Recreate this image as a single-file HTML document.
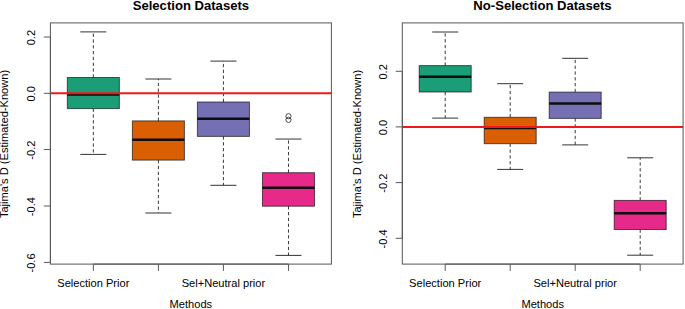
<!DOCTYPE html>
<html><head><meta charset="utf-8"><title>Tajima's D boxplots</title>
<style>
html,body{margin:0;padding:0;background:#fff;}
body{width:685px;height:309px;overflow:hidden;}
svg{display:block;font-family:'Liberation Sans', Arial, Helvetica, sans-serif;fill:#000;}
</style></head><body>
<svg xmlns="http://www.w3.org/2000/svg" width="685" height="309" viewBox="0 0 685 309">
<rect width="685" height="309" fill="#fff"/>
<line x1="93.33" y1="77.50" x2="93.33" y2="31.90" stroke="#3a3a3a" stroke-width="1" stroke-dasharray="3.3 2.5"/>
<line x1="93.33" y1="108.60" x2="93.33" y2="154.40" stroke="#3a3a3a" stroke-width="1" stroke-dasharray="3.3 2.5"/>
<line x1="80.32" y1="31.90" x2="106.34" y2="31.90" stroke="#333" stroke-width="1"/>
<line x1="80.32" y1="154.40" x2="106.34" y2="154.40" stroke="#333" stroke-width="1"/>
<rect x="67.31" y="77.50" width="52.04" height="31.10" fill="#1B9E77" stroke="#000" stroke-opacity="0.62" stroke-width="1"/>
<line x1="67.31" y1="94.60" x2="119.35" y2="94.60" stroke="#0d0d0d" stroke-width="2.5"/>
<line x1="158.38" y1="120.90" x2="158.38" y2="79.00" stroke="#3a3a3a" stroke-width="1" stroke-dasharray="3.3 2.5"/>
<line x1="158.38" y1="160.10" x2="158.38" y2="213.00" stroke="#3a3a3a" stroke-width="1" stroke-dasharray="3.3 2.5"/>
<line x1="145.37" y1="79.00" x2="171.39" y2="79.00" stroke="#333" stroke-width="1"/>
<line x1="145.37" y1="213.00" x2="171.39" y2="213.00" stroke="#333" stroke-width="1"/>
<rect x="132.36" y="120.90" width="52.04" height="39.20" fill="#D95F02" stroke="#000" stroke-opacity="0.62" stroke-width="1"/>
<line x1="132.36" y1="139.80" x2="184.40" y2="139.80" stroke="#0d0d0d" stroke-width="2.5"/>
<line x1="223.42" y1="102.00" x2="223.42" y2="61.10" stroke="#3a3a3a" stroke-width="1" stroke-dasharray="3.3 2.5"/>
<line x1="223.42" y1="136.40" x2="223.42" y2="185.30" stroke="#3a3a3a" stroke-width="1" stroke-dasharray="3.3 2.5"/>
<line x1="210.41" y1="61.10" x2="236.43" y2="61.10" stroke="#333" stroke-width="1"/>
<line x1="210.41" y1="185.30" x2="236.43" y2="185.30" stroke="#333" stroke-width="1"/>
<rect x="197.40" y="102.00" width="52.04" height="34.40" fill="#7570B3" stroke="#000" stroke-opacity="0.62" stroke-width="1"/>
<line x1="197.40" y1="118.80" x2="249.44" y2="118.80" stroke="#0d0d0d" stroke-width="2.5"/>
<line x1="288.47" y1="172.70" x2="288.47" y2="139.05" stroke="#3a3a3a" stroke-width="1" stroke-dasharray="3.3 2.5"/>
<line x1="288.47" y1="206.20" x2="288.47" y2="255.40" stroke="#3a3a3a" stroke-width="1" stroke-dasharray="3.3 2.5"/>
<line x1="275.46" y1="139.05" x2="301.48" y2="139.05" stroke="#333" stroke-width="1"/>
<line x1="275.46" y1="255.40" x2="301.48" y2="255.40" stroke="#333" stroke-width="1"/>
<rect x="262.45" y="172.70" width="52.04" height="33.50" fill="#E7298A" stroke="#000" stroke-opacity="0.62" stroke-width="1"/>
<line x1="262.45" y1="187.80" x2="314.49" y2="187.80" stroke="#0d0d0d" stroke-width="2.5"/>
<circle cx="288.47" cy="116.20" r="2.6" fill="none" stroke="#3a3a3a" stroke-width="0.9"/>
<circle cx="288.47" cy="119.90" r="2.6" fill="none" stroke="#3a3a3a" stroke-width="0.9"/>
<line x1="50.40" y1="93.15" x2="331.40" y2="93.15" stroke="#F01818" stroke-width="2"/>
<rect x="50.40" y="22.90" width="281.00" height="241.20" fill="none" stroke="#555" stroke-width="1"/>
<line x1="50.40" y1="37.00" x2="50.40" y2="262.40" stroke="#555" stroke-width="1"/>
<line x1="43.80" y1="37.00" x2="50.40" y2="37.00" stroke="#5a5a5a" stroke-width="1"/>
<text transform="translate(35.20,37.60) rotate(-90)" text-anchor="middle" font-size="11.1">0.2</text>
<line x1="43.80" y1="93.30" x2="50.40" y2="93.30" stroke="#5a5a5a" stroke-width="1"/>
<text transform="translate(35.20,93.90) rotate(-90)" text-anchor="middle" font-size="11.1">0.0</text>
<line x1="43.80" y1="149.50" x2="50.40" y2="149.50" stroke="#5a5a5a" stroke-width="1"/>
<text transform="translate(35.20,150.10) rotate(-90)" text-anchor="middle" font-size="11.1">-0.2</text>
<line x1="43.80" y1="206.00" x2="50.40" y2="206.00" stroke="#5a5a5a" stroke-width="1"/>
<text transform="translate(35.20,206.60) rotate(-90)" text-anchor="middle" font-size="11.1">-0.4</text>
<line x1="43.80" y1="262.40" x2="50.40" y2="262.40" stroke="#5a5a5a" stroke-width="1"/>
<text transform="translate(35.20,263.00) rotate(-90)" text-anchor="middle" font-size="11.1">-0.6</text>
<line x1="93.33" y1="264.10" x2="288.47" y2="264.10" stroke="#555" stroke-width="1"/>
<line x1="93.33" y1="264.10" x2="93.33" y2="270.90" stroke="#5a5a5a" stroke-width="1"/>
<line x1="158.38" y1="264.10" x2="158.38" y2="270.90" stroke="#5a5a5a" stroke-width="1"/>
<line x1="223.42" y1="264.10" x2="223.42" y2="270.90" stroke="#5a5a5a" stroke-width="1"/>
<line x1="288.47" y1="264.10" x2="288.47" y2="270.90" stroke="#5a5a5a" stroke-width="1"/>
<text x="93.33" y="287.3" text-anchor="middle" font-size="11.1">Selection Prior</text>
<text x="223.42" y="287.3" text-anchor="middle" font-size="11.1">Sel+Neutral prior</text>
<text x="190.90" y="307.6" text-anchor="middle" font-size="11.1">Methods</text>
<text x="190.90" y="10.4" text-anchor="middle" font-size="13.1" font-weight="bold">Selection Datasets</text>
<text transform="translate(8.40,144.00) rotate(-90)" text-anchor="middle" font-size="11.1">Tajima&#39;s D (Estimated-Known)</text>
<line x1="445.20" y1="65.60" x2="445.20" y2="32.00" stroke="#3a3a3a" stroke-width="1" stroke-dasharray="3.3 2.5"/>
<line x1="445.20" y1="92.00" x2="445.20" y2="118.10" stroke="#3a3a3a" stroke-width="1" stroke-dasharray="3.3 2.5"/>
<line x1="432.20" y1="32.00" x2="458.20" y2="32.00" stroke="#333" stroke-width="1"/>
<line x1="432.20" y1="118.10" x2="458.20" y2="118.10" stroke="#333" stroke-width="1"/>
<rect x="419.20" y="65.60" width="52.00" height="26.40" fill="#1B9E77" stroke="#000" stroke-opacity="0.62" stroke-width="1"/>
<line x1="419.20" y1="76.80" x2="471.20" y2="76.80" stroke="#0d0d0d" stroke-width="2.5"/>
<line x1="510.20" y1="117.30" x2="510.20" y2="83.70" stroke="#3a3a3a" stroke-width="1" stroke-dasharray="3.3 2.5"/>
<line x1="510.20" y1="143.70" x2="510.20" y2="169.40" stroke="#3a3a3a" stroke-width="1" stroke-dasharray="3.3 2.5"/>
<line x1="497.20" y1="83.70" x2="523.20" y2="83.70" stroke="#333" stroke-width="1"/>
<line x1="497.20" y1="169.40" x2="523.20" y2="169.40" stroke="#333" stroke-width="1"/>
<rect x="484.20" y="117.30" width="52.00" height="26.40" fill="#D95F02" stroke="#000" stroke-opacity="0.62" stroke-width="1"/>
<line x1="484.20" y1="128.10" x2="536.20" y2="128.10" stroke="#0d0d0d" stroke-width="2.5"/>
<line x1="575.20" y1="92.10" x2="575.20" y2="58.30" stroke="#3a3a3a" stroke-width="1" stroke-dasharray="3.3 2.5"/>
<line x1="575.20" y1="118.40" x2="575.20" y2="144.90" stroke="#3a3a3a" stroke-width="1" stroke-dasharray="3.3 2.5"/>
<line x1="562.20" y1="58.30" x2="588.20" y2="58.30" stroke="#333" stroke-width="1"/>
<line x1="562.20" y1="144.90" x2="588.20" y2="144.90" stroke="#333" stroke-width="1"/>
<rect x="549.20" y="92.10" width="52.00" height="26.30" fill="#7570B3" stroke="#000" stroke-opacity="0.62" stroke-width="1"/>
<line x1="549.20" y1="103.50" x2="601.20" y2="103.50" stroke="#0d0d0d" stroke-width="2.5"/>
<line x1="640.20" y1="200.40" x2="640.20" y2="157.80" stroke="#3a3a3a" stroke-width="1" stroke-dasharray="3.3 2.5"/>
<line x1="640.20" y1="229.50" x2="640.20" y2="255.20" stroke="#3a3a3a" stroke-width="1" stroke-dasharray="3.3 2.5"/>
<line x1="627.20" y1="157.80" x2="653.20" y2="157.80" stroke="#333" stroke-width="1"/>
<line x1="627.20" y1="255.20" x2="653.20" y2="255.20" stroke="#333" stroke-width="1"/>
<rect x="614.20" y="200.40" width="52.00" height="29.10" fill="#E7298A" stroke="#000" stroke-opacity="0.62" stroke-width="1"/>
<line x1="614.20" y1="213.20" x2="666.20" y2="213.20" stroke="#0d0d0d" stroke-width="2.5"/>
<line x1="402.30" y1="127.00" x2="683.10" y2="127.00" stroke="#F01818" stroke-width="2"/>
<rect x="402.30" y="22.90" width="280.80" height="241.20" fill="none" stroke="#555" stroke-width="1"/>
<line x1="402.30" y1="71.30" x2="402.30" y2="238.30" stroke="#555" stroke-width="1"/>
<line x1="395.70" y1="71.30" x2="402.30" y2="71.30" stroke="#5a5a5a" stroke-width="1"/>
<text transform="translate(386.50,71.90) rotate(-90)" text-anchor="middle" font-size="11.1">0.2</text>
<line x1="395.70" y1="126.90" x2="402.30" y2="126.90" stroke="#5a5a5a" stroke-width="1"/>
<text transform="translate(386.50,127.50) rotate(-90)" text-anchor="middle" font-size="11.1">0.0</text>
<line x1="395.70" y1="182.60" x2="402.30" y2="182.60" stroke="#5a5a5a" stroke-width="1"/>
<text transform="translate(386.50,183.20) rotate(-90)" text-anchor="middle" font-size="11.1">-0.2</text>
<line x1="395.70" y1="238.30" x2="402.30" y2="238.30" stroke="#5a5a5a" stroke-width="1"/>
<text transform="translate(386.50,238.90) rotate(-90)" text-anchor="middle" font-size="11.1">-0.4</text>
<line x1="445.20" y1="264.10" x2="640.20" y2="264.10" stroke="#555" stroke-width="1"/>
<line x1="445.20" y1="264.10" x2="445.20" y2="270.90" stroke="#5a5a5a" stroke-width="1"/>
<line x1="510.20" y1="264.10" x2="510.20" y2="270.90" stroke="#5a5a5a" stroke-width="1"/>
<line x1="575.20" y1="264.10" x2="575.20" y2="270.90" stroke="#5a5a5a" stroke-width="1"/>
<line x1="640.20" y1="264.10" x2="640.20" y2="270.90" stroke="#5a5a5a" stroke-width="1"/>
<text x="445.20" y="287.3" text-anchor="middle" font-size="11.1">Selection Prior</text>
<text x="575.20" y="287.3" text-anchor="middle" font-size="11.1">Sel+Neutral prior</text>
<text x="542.70" y="307.6" text-anchor="middle" font-size="11.1">Methods</text>
<text x="542.50" y="10.4" text-anchor="middle" font-size="13.1" font-weight="bold">No-Selection Datasets</text>
<text transform="translate(360.50,144.00) rotate(-90)" text-anchor="middle" font-size="11.1">Tajima&#39;s D (Estimated-Known)</text>
</svg>
</body></html>
